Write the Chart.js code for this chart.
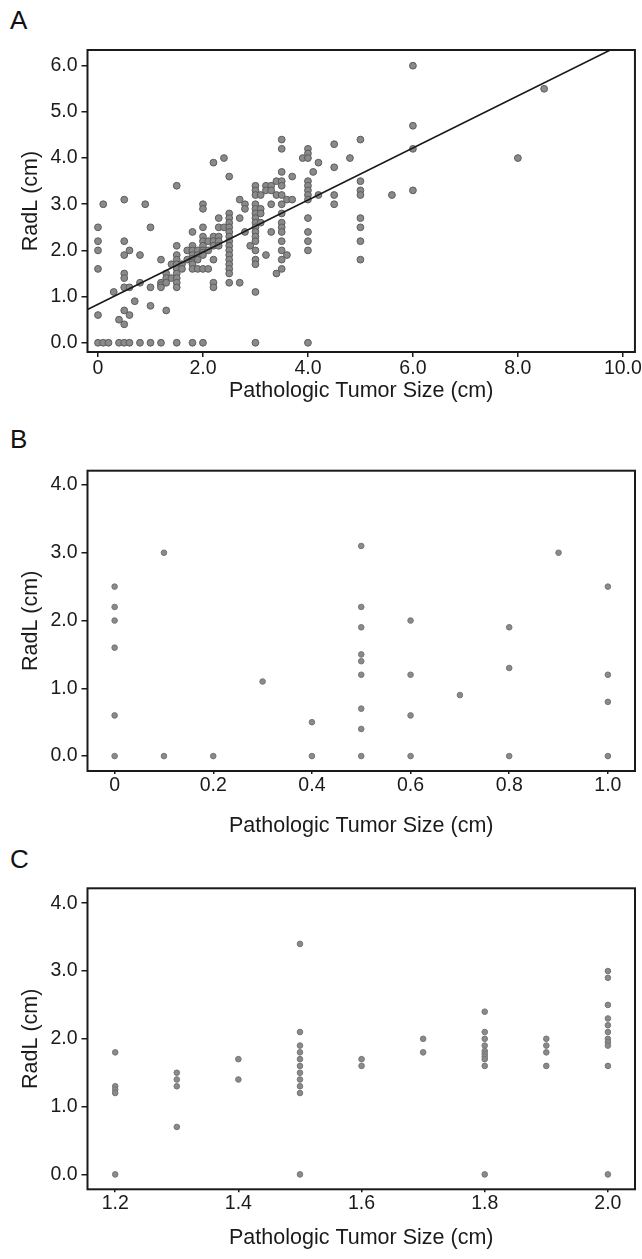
<!DOCTYPE html>
<html>
<head>
<meta charset="utf-8">
<script src="https://cdn.jsdelivr.net/npm/chart.js@4.4.0/dist/chart.umd.min.js"></script>
<style>
  body { margin: 0; background: #fff; width: 642px; height: 1259px; position: relative; overflow: hidden;
         font-family: "Liberation Sans", Arial, sans-serif; }
  canvas { position: absolute; left: 0; }
  .tag { position: absolute; left: 10px; font-size: 26px; line-height: 26px; color: #111; }
</style>
</head>
<body>
<div class="tag" style="top:7px">A</div>
<div class="tag" style="top:426px">B</div>
<div class="tag" style="top:846px">C</div>
<canvas id="chartA" width="642" height="410" style="top:0"></canvas>
<canvas id="chartB" width="642" height="420" style="top:420px"></canvas>
<canvas id="chartC" width="642" height="419" style="top:840px"></canvas>
<script>
// tumours <= 1.0 cm (panel B)
const radlSmall = [
  [0, [2.5, 2.2, 2.0, 1.6, 0.6, 0]],
  [0.1, [3.0, 0]],
  [0.2, [0]],
  [0.3, [1.1]],
  [0.4, [0.5, 0]],
  [0.5, [3.1, 2.2, 1.9, 1.5, 1.4, 1.2, 0.7, 0.4, 0]],
  [0.6, [2.0, 1.2, 0.6, 0]],
  [0.7, [0.9]],
  [0.8, [1.9, 1.3, 0]],
  [0.9, [3.0]],
  [1.0, [2.5, 1.2, 0.8, 0]]
];

// tumours 1.1 - 2.0 cm (panel C)
const radlMid = [
  [1.2, [1.8, 1.3, 1.25, 1.2, 0]],
  [1.3, [1.5, 1.4, 1.3, 0.7]],
  [1.4, [1.7, 1.4]],
  [1.5, [3.4, 2.1, 1.9, 1.8, 1.7, 1.6, 1.5, 1.4, 1.3, 1.2, 0]],
  [1.6, [1.7, 1.6]],
  [1.7, [2.0, 1.8]],
  [1.8, [2.4, 2.1, 2.0, 1.9, 1.82, 1.78, 1.74, 1.7, 1.6, 0]],
  [1.9, [2.0, 1.9, 1.8, 1.6]],
  [2.0, [3.0, 2.9, 2.5, 2.3, 2.2, 2.1, 2.0, 1.95, 1.9, 1.6, 0]]
];

// tumours > 2.0 cm (only in panel A)
const radlLarge = [
  [2.1, [2.2, 2.0, 1.6]],
  [2.2, [3.9, 2.3, 2.2, 2.1, 1.8, 1.3, 1.2]],
  [2.3, [2.7, 2.5, 2.3, 2.2, 2.1]],
  [2.4, [4.0, 2.5]],
  [2.5, [3.6, 2.8, 2.7, 2.6, 2.5, 2.4, 2.3, 2.2, 2.1, 2.0, 1.9, 1.8, 1.7, 1.6, 1.5, 1.3]],
  [2.7, [3.1, 2.7, 1.3]],
  [2.8, [3.0, 2.9, 2.4]],
  [2.9, [2.1]],
  [3.0, [3.4, 3.3, 3.2, 3.0, 2.9, 2.8, 2.7, 2.6, 2.5, 2.4, 2.3, 2.2, 2.0, 1.8, 1.7, 1.1, 0]],
  [3.1, [3.2, 2.9, 2.8, 2.6]],
  [3.2, [3.4, 3.3, 1.9]],
  [3.3, [3.4, 3.3, 3.0, 2.4]],
  [3.4, [3.5, 3.2, 1.5]],
  [3.5, [4.4, 4.2, 3.7, 3.5, 3.4, 3.2, 3.0, 2.8, 2.6, 2.5, 2.4, 2.2, 2.0, 1.8, 1.6]],
  [3.6, [3.1, 1.9]],
  [3.7, [3.6, 3.1]],
  [3.9, [4.0]],
  [4.0, [4.2, 4.1, 4.0, 3.5, 3.4, 3.3, 3.2, 3.1, 2.7, 2.4, 2.2, 2.0, 0]],
  [4.1, [3.7]],
  [4.2, [3.9, 3.2]],
  [4.5, [4.3, 3.8, 3.2, 3.0]],
  [4.8, [4.0]],
  [5.0, [4.4, 3.5, 3.3, 3.2, 2.7, 2.5, 2.2, 1.8]],
  [5.6, [3.2]],
  [6.0, [6.0, 4.7, 4.2, 3.3]],
  [8.0, [4.0]],
  [8.5, [5.5]]
];

// fitted line, end points
const fitLine = [
  { x: -0.2, y: 0.72 },
  { x: 9.76, y: 6.34 }
];

const xTicksA = [0, 2, 4, 6, 8, 10];
const xLabelsA = ["0", "2.0", "4.0", "6.0", "8.0", "10.0"];
const yTicksA = [0, 1, 2, 3, 4, 5, 6];
const yLabelsA = ["0.0", "1.0", "2.0", "3.0", "4.0", "5.0", "6.0"];

const xTicksB = [0, 0.2, 0.4, 0.6, 0.8, 1.0];
const xLabelsB = ["0", "0.2", "0.4", "0.6", "0.8", "1.0"];
const xTicksC = [1.2, 1.4, 1.6, 1.8, 2.0];
const xLabelsC = ["1.2", "1.4", "1.6", "1.8", "2.0"];
const yTicksBC = [0, 1, 2, 3, 4];
const yLabelsBC = ["0.0", "1.0", "2.0", "3.0", "4.0"];

const INK = "#1a1a1a";
const FONT = "'Liberation Sans', Arial, sans-serif";

function toPoints(cols) {
  return cols.flatMap(([x, ys]) => ys.map((y) => ({ x: x, y: y })));
}

// closed box around the plot area
const frame = {
  id: "frame",
  afterDraw(chart) {
    const a = chart.chartArea;
    const c = chart.ctx;
    c.save();
    c.strokeStyle = INK;
    c.lineWidth = 2;
    c.strokeRect(a.left, a.top, a.right - a.left, a.bottom - a.top);
    c.restore();
  },
};

function makePanel(id, p) {
  const datasets = [
    {
      data: p.points,
      pointRadius: p.radius,
      backgroundColor: "#8a8a8a",
      borderColor: p.edge,
      borderWidth: 1,
      order: 1,
    },
  ];
  if (p.line) {
    datasets.push({
      data: p.line,
      showLine: true,
      pointRadius: 0,
      borderColor: INK,
      borderWidth: 1.6,
      order: 0,
    });
  }

  new Chart(document.getElementById(id), {
    type: "scatter",
    data: { datasets: datasets },
    options: {
      responsive: false,
      animation: false,
      events: [],
      layout: { padding: { top: p.padTop, right: 7, left: 0, bottom: 0 } },
      plugins: { legend: { display: false }, tooltip: { enabled: false } },
      scales: {
        x: {
          type: "linear",
          min: p.xMin,
          max: p.xMax,
          afterBuildTicks: (s) => { s.ticks = p.xTicks.map((v) => ({ value: v })); },
          afterFit: (s) => { s.height = p.xHeight; },
          border: { display: false },
          grid: { drawOnChartArea: false, tickLength: p.xTickLen, color: INK, lineWidth: 1.5 },
          ticks: {
            callback: (v, i) => p.xLabels[i],
            autoSkip: false,
            maxRotation: 0,
            padding: p.xTickPad,
            color: INK,
            font: { family: FONT, size: 19.5 },
          },
          title: {
            display: true,
            text: "Pathologic Tumor Size (cm)",
            color: INK,
            font: { family: FONT, size: 21.5, lineHeight: 1.2 },
            padding: { top: 0, bottom: p.titlePad },
          },
        },
        y: {
          type: "linear",
          min: p.yMin,
          max: p.yMax,
          afterBuildTicks: (s) => { s.ticks = p.yTicks.map((v) => ({ value: v })); },
          afterFit: (s) => { s.width = 87.5; },
          border: { display: false },
          grid: { drawOnChartArea: false, tickLength: 6, color: INK, lineWidth: 1.5 },
          ticks: {
            callback: (v, i) => p.yLabels[i],
            autoSkip: false,
            padding: 4,
            color: INK,
            font: { family: FONT, size: 19.5 },
          },
          title: {
            display: true,
            text: "RadL (cm)",
            color: INK,
            font: { family: FONT, size: 21.5, lineHeight: 1.2 },
            padding: { top: 18, bottom: 0 },
          },
        },
      },
    },
    plugins: [frame],
  });
}

document.addEventListener("DOMContentLoaded", () => {
  makePanel("chartA", {
    points: toPoints(radlSmall.concat(radlMid, radlLarge)),
    line: fitLine,
    radius: 3.4,
    edge: "#5c5c5c",
    xMin: -0.2, xMax: 10.23, yMin: -0.2, yMax: 6.34,
    xTicks: xTicksA, xLabels: xLabelsA, yTicks: yTicksA, yLabels: yLabelsA,
    padTop: 50, xHeight: 58, xTickLen: 5, xTickPad: 0, titlePad: 6,
  });

  makePanel("chartB", {
    points: toPoints(radlSmall),
    radius: 2.8,
    edge: "#767676",
    xMin: -0.055, xMax: 1.055, yMin: -0.22, yMax: 4.21,
    xTicks: xTicksB, xLabels: xLabelsB, yTicks: yTicksBC, yLabels: yLabelsBC,
    padTop: 50.7, xHeight: 69, xTickLen: 3, xTickPad: 0, titlePad: 1,
  });

  makePanel("chartC", {
    points: toPoints(radlMid),
    radius: 2.8,
    edge: "#767676",
    xMin: 1.155, xMax: 2.044, yMin: -0.22, yMax: 4.22,
    xTicks: xTicksC, xLabels: xLabelsC, yTicks: yTicksBC, yLabels: yLabelsBC,
    padTop: 48.3, xHeight: 69.7, xTickLen: 3, xTickPad: 0, titlePad: 8,
  });
});
</script>
</body>
</html>
